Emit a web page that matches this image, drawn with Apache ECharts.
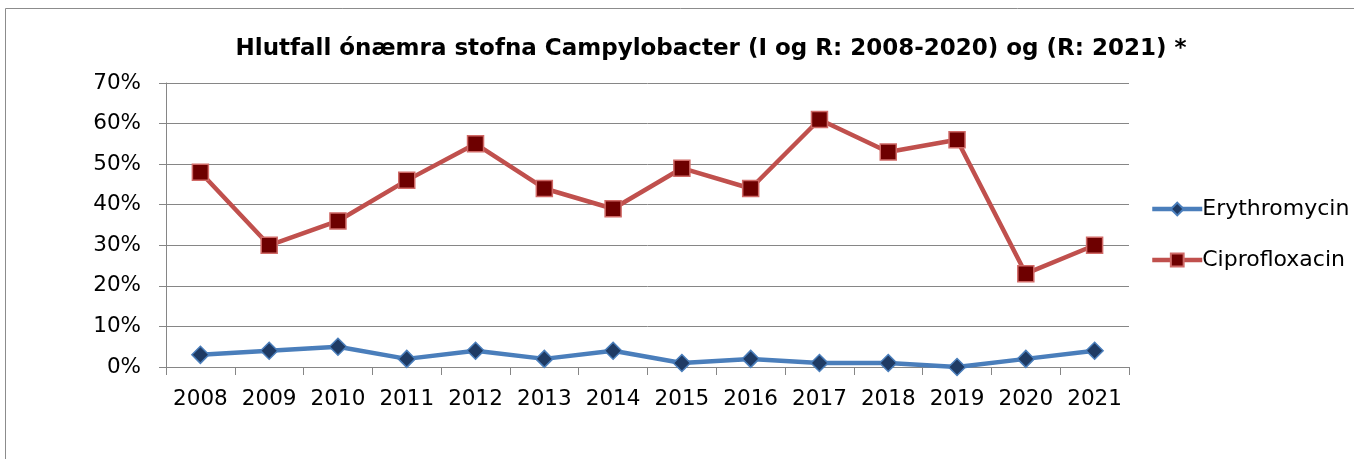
<!DOCTYPE html>
<html><head><meta charset="utf-8">
<script src="https://cdn.jsdelivr.net/npm/echarts@6/dist/echarts.min.js"></script>
<style>html,body{margin:0;padding:0;background:#fff}#c{width:1354px;height:459px}</style>
</head><body><div id="c"></div>
<script>
const titleText = 'Hlutfall ónæmra stofna Campylobacter (I og R: 2008-2020) og (R: 2021) *';
const years = ['2008','2009','2010','2011','2012','2013','2014','2015','2016','2017','2018','2019','2020','2021'];
const erythromycin = [3,4,5,2,4,2,4,1,2,1,1,0,2,4];
const ciprofloxacin = [48,30,36,46,55,44,39,49,44,61,53,56,23,30];
const yTicks = [0,10,20,30,40,50,60,70];

const font = 'DejaVu Sans, sans-serif';
const chart = echarts.init(document.getElementById('c'));
chart.setOption({
  animation:false,
  backgroundColor:'#fff',
  graphic:[{type:'rect',shape:{x:5.5,y:8.5,width:1500,height:600},style:{fill:'none',stroke:'#8c8c8c',lineWidth:1}}],
  title:{text:titleText,left:706,top:33,textAlign:'center',textStyle:{fontFamily:font,fontWeight:'bold',fontSize:23,color:'#000'}},
  grid:{left:166,right:225,top:83,bottom:92,containLabel:false},
  legend:{
    orient:'vertical',left:1145,top:193,itemWidth:50,itemHeight:16,itemGap:29,
    lineStyle:{width:4.5},
    textStyle:{fontFamily:font,fontSize:22,color:'#000',padding:[0,0,0,-5]},
    data:['Erythromycin','Ciprofloxacin']
  },
  xAxis:{type:'category',data:years,boundaryGap:true,
    axisLine:{lineStyle:{color:'#868686',width:1}},
    axisTick:{show:true,length:8,interval:0,lineStyle:{color:'#868686'}},
    axisLabel:{fontFamily:font,fontSize:21.5,color:'#000',margin:21,interval:0}},
  yAxis:{type:'value',min:0,max:70,interval:10,
    axisLine:{show:true,lineStyle:{color:'#868686'}},
    axisTick:{show:true,length:7,lineStyle:{color:'#868686'}},
    splitLine:{lineStyle:{color:'#868686',width:1}},
    axisLabel:{fontFamily:font,fontSize:21.5,color:'#000',margin:25,formatter:v=>v+'%'}},
  series:[
    {name:'Erythromycin',type:'line',data:erythromycin,symbol:'diamond',symbolSize:17,
     lineStyle:{color:'#4a7ebb',width:4.5},
     itemStyle:{color:'#1f3b64',borderColor:'#4a7ebb',borderWidth:1.5}},
    {name:'Ciprofloxacin',type:'line',data:ciprofloxacin,symbol:'rect',symbolSize:16,
     lineStyle:{color:'#c0504d',width:4.5},
     itemStyle:{color:'#6e0000',borderColor:'#d06a67',borderWidth:1.5}}
  ]
});
</script></body></html>
